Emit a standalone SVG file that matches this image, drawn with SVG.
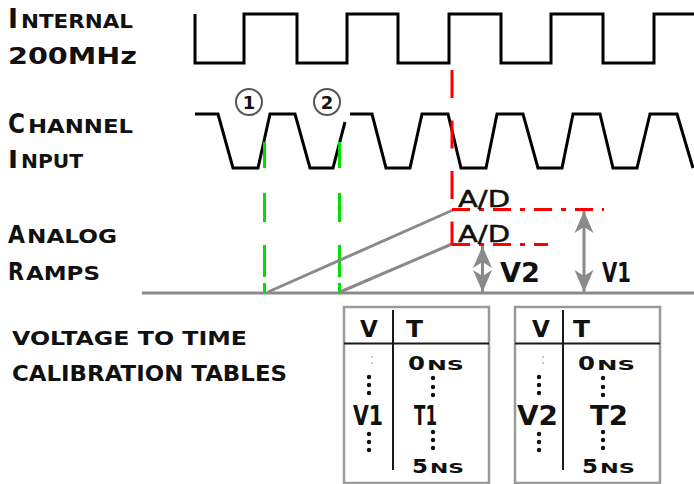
<svg xmlns="http://www.w3.org/2000/svg" width="694" height="484" viewBox="0 0 694 484">
<style>
.lbl{font-family:"DejaVu Sans","Liberation Sans",sans-serif;font-weight:bold;fill:#111}
.ad{font-family:"DejaVu Sans","Liberation Sans",sans-serif;font-weight:normal;fill:#111;stroke:#111;stroke-width:0.5}
.wave{fill:none;stroke:#000;stroke-width:3;stroke-linejoin:miter}
.gray{fill:none;stroke:#8a8a8a;stroke-width:3}
.red{fill:none;stroke:#ff0000;stroke-width:3}
.green{fill:none;stroke:#00e000;stroke-width:3;stroke-dasharray:26 25 29 23 32 6 10}
.tbl{fill:#fff;stroke:#9a9a9a;stroke-width:2.5}
.div{stroke:#1a1a1a;stroke-width:2}
.dot{fill:#111}
.faint{fill:#bbb}
.circ{fill:#fff;stroke:#555;stroke-width:2}
</style>
<defs>
<marker id="ah" markerUnits="userSpaceOnUse" orient="auto-start-reverse" refX="0" refY="0" markerWidth="24" markerHeight="22" overflow="visible">
<path d="M0,0 L-22,-9.5 L-16,0 L-22,9.5 Z" fill="#8a8a8a"/>
</marker>
</defs>

<g id="label-internal">
<text class="lbl" x="8" y="28" font-size="27" textLength="10" lengthAdjust="spacingAndGlyphs">I</text>
<text class="lbl" x="21" y="28" font-size="20" textLength="112" lengthAdjust="spacingAndGlyphs">NTERNAL</text>
<text class="lbl" x="8" y="64" font-size="23" textLength="129" lengthAdjust="spacingAndGlyphs">200MHz</text>
</g>
<g id="label-channel">
<text class="lbl" x="8" y="133" font-size="27" textLength="17" lengthAdjust="spacingAndGlyphs">C</text>
<text class="lbl" x="28" y="133" font-size="20" textLength="105" lengthAdjust="spacingAndGlyphs">HANNEL</text>
<text class="lbl" x="8" y="168" font-size="25" textLength="10" lengthAdjust="spacingAndGlyphs">I</text>
<text class="lbl" x="21" y="168" font-size="20" textLength="62" lengthAdjust="spacingAndGlyphs">NPUT</text>
</g>
<g id="label-ramps">
<text class="lbl" x="8" y="243" font-size="25" textLength="17" lengthAdjust="spacingAndGlyphs">A</text>
<text class="lbl" x="27" y="243" font-size="19" textLength="90" lengthAdjust="spacingAndGlyphs">NALOG</text>
<text class="lbl" x="8" y="280" font-size="25" textLength="16" lengthAdjust="spacingAndGlyphs">R</text>
<text class="lbl" x="26" y="280" font-size="19" textLength="74" lengthAdjust="spacingAndGlyphs">AMPS</text>
</g>
<g id="label-tables">
<text class="lbl" x="12" y="345" font-size="20" textLength="235" lengthAdjust="spacingAndGlyphs">VOLTAGE TO TIME</text>
<text class="lbl" x="12" y="381" font-size="21" textLength="275" lengthAdjust="spacingAndGlyphs">CALIBRATION TABLES</text>
</g>

<g id="clock">
<path class="wave" d="M195,14 V63 H244 V14 H297 V63 H347 V14 H398 V63 H449 V14 H501 V63 H551 V14 H603 V63 H654 V14 H694"/>
</g>
<g id="channel-input">
<path class="wave" d="M195,114 H218 L233,168 H258 L270,114 H295 L310,168 H333 L345,122"/>
<path class="wave" d="M350,114 H372 L386,168 H410 L422,114 H448 L461,168 H486 L497,114 H523 L538,168 H562 L573,114 H600 L613,168 H637 L650,114 H677 L693,168"/>
</g>
<g id="marker-1">
<circle class="circ" cx="249" cy="102" r="13"/>
<text class="lbl" x="249" y="109" font-size="18" text-anchor="middle">1</text>
</g>
<g id="marker-2">
<circle class="circ" cx="327" cy="102" r="13"/>
<text class="lbl" x="327" y="109" font-size="18" text-anchor="middle">2</text>
</g>

<g id="connectors">
<line class="gray" x1="142" y1="293" x2="694" y2="293"/>
<line class="green" x1="264.5" y1="142" x2="264.5" y2="293"/>
<line class="green" x1="339.5" y1="142" x2="339.5" y2="293"/>
<line class="gray" x1="268" y1="292" x2="453" y2="210"/>
<line class="gray" x1="340" y1="292" x2="452" y2="244"/>
<line class="red" x1="452" y1="70" x2="452" y2="245" stroke-dasharray="28 22.5"/>
<line class="red" x1="452" y1="209.5" x2="604" y2="209.5" stroke-dasharray="18 9 5 9"/>
<line class="red" x1="452" y1="244.5" x2="548" y2="244.5" stroke-dasharray="18 9 5 9"/>
<line class="gray" x1="482.5" y1="246" x2="482.5" y2="292" marker-start="url(#ah)" marker-end="url(#ah)"/>
<line class="gray" x1="584" y1="211" x2="584" y2="292" marker-start="url(#ah)" marker-end="url(#ah)"/>
</g>

<g id="ad-labels">
<text class="ad" x="458" y="207" font-size="23" textLength="52" lengthAdjust="spacingAndGlyphs">A/D</text>
<text class="ad" x="458" y="242" font-size="23" textLength="52" lengthAdjust="spacingAndGlyphs">A/D</text>
</g>
<g id="v-labels">
<text class="lbl" x="500" y="282" font-size="27" textLength="40" lengthAdjust="spacingAndGlyphs">V2</text>
<text class="lbl" x="602" y="282" font-size="27" textLength="29" lengthAdjust="spacingAndGlyphs">V1</text>
</g>

<g id="table-1">
<rect class="tbl" x="344" y="307" width="145" height="176"/>
<line class="div" x1="344" y1="343.5" x2="489" y2="343.5"/>
<line class="div" x1="393" y1="310" x2="393" y2="470"/>
<text class="lbl" x="369" y="337" font-size="23" text-anchor="middle">V</text>
<text class="lbl" x="406" y="337" font-size="23" textLength="17" lengthAdjust="spacingAndGlyphs">T</text>
<text class="lbl" x="408" y="370" font-size="19" textLength="17" lengthAdjust="spacingAndGlyphs">0</text>
<text class="lbl" x="427" y="370" font-size="14" textLength="37" lengthAdjust="spacingAndGlyphs">NS</text>
<text class="lbl" x="353" y="425" font-size="26" textLength="30" lengthAdjust="spacingAndGlyphs">V1</text>
<text class="lbl" x="414" y="425" font-size="26" textLength="23" lengthAdjust="spacingAndGlyphs">T1</text>
<text class="lbl" x="412" y="473" font-size="20" textLength="16" lengthAdjust="spacingAndGlyphs">5</text>
<text class="lbl" x="430" y="473" font-size="14" textLength="34" lengthAdjust="spacingAndGlyphs">NS</text>
<circle class="faint" cx="372" cy="357" r="1"/><circle class="faint" cx="372" cy="363" r="1"/>
<circle class="dot" cx="369" cy="377" r="2.2"/><circle class="dot" cx="369" cy="385" r="2.2"/><circle class="dot" cx="369" cy="393" r="2.2"/>
<circle class="dot" cx="369" cy="434" r="2.2"/><circle class="dot" cx="369" cy="442" r="2.2"/><circle class="dot" cx="369" cy="450" r="2.2"/>
<circle class="dot" cx="433" cy="378" r="2.2"/><circle class="dot" cx="433" cy="387" r="2.2"/><circle class="dot" cx="433" cy="395" r="2.2"/>
<circle class="dot" cx="433" cy="432" r="2.2"/><circle class="dot" cx="433" cy="440" r="2.2"/><circle class="dot" cx="433" cy="448" r="2.2"/>
</g>

<g id="table-2">
<rect class="tbl" x="515" y="307" width="145" height="176"/>
<line class="div" x1="515" y1="343.5" x2="660" y2="343.5"/>
<line class="div" x1="563" y1="310" x2="563" y2="470"/>
<text class="lbl" x="541" y="337" font-size="23" text-anchor="middle">V</text>
<text class="lbl" x="573" y="337" font-size="23" textLength="17" lengthAdjust="spacingAndGlyphs">T</text>
<text class="lbl" x="578" y="370" font-size="19" textLength="17" lengthAdjust="spacingAndGlyphs">0</text>
<text class="lbl" x="597" y="370" font-size="14" textLength="38" lengthAdjust="spacingAndGlyphs">NS</text>
<text class="lbl" x="517" y="425" font-size="26" textLength="41" lengthAdjust="spacingAndGlyphs">V2</text>
<text class="lbl" x="590" y="425" font-size="26" textLength="38" lengthAdjust="spacingAndGlyphs">T2</text>
<text class="lbl" x="582" y="473" font-size="20" textLength="16" lengthAdjust="spacingAndGlyphs">5</text>
<text class="lbl" x="600" y="473" font-size="14" textLength="35" lengthAdjust="spacingAndGlyphs">NS</text>
<circle class="faint" cx="543" cy="357" r="1"/><circle class="faint" cx="543" cy="363" r="1"/>
<circle class="dot" cx="539" cy="377" r="2.2"/><circle class="dot" cx="539" cy="385" r="2.2"/><circle class="dot" cx="539" cy="393" r="2.2"/>
<circle class="dot" cx="539" cy="434" r="2.2"/><circle class="dot" cx="539" cy="442" r="2.2"/><circle class="dot" cx="539" cy="450" r="2.2"/>
<circle class="dot" cx="603" cy="378" r="2.2"/><circle class="dot" cx="603" cy="387" r="2.2"/><circle class="dot" cx="603" cy="395" r="2.2"/>
<circle class="dot" cx="603" cy="432" r="2.2"/><circle class="dot" cx="603" cy="440" r="2.2"/><circle class="dot" cx="603" cy="448" r="2.2"/>
</g>
</svg>
